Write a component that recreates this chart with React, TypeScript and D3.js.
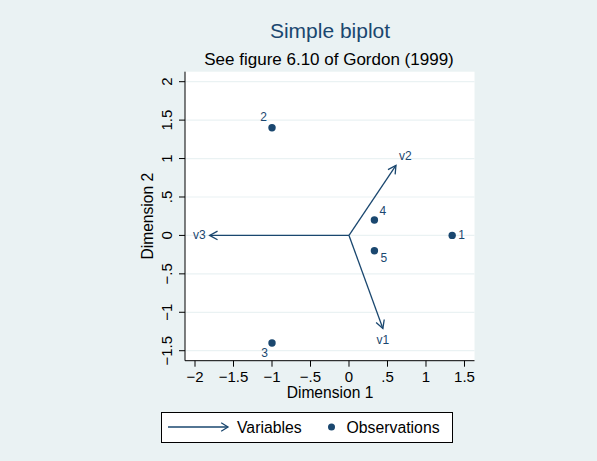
import React from 'react';
import * as d3 from 'd3';

// observations (Dimension 1, Dimension 2)
const obsLabels = ['1', '2', '3', '4', '5'];
const obsX = [1.34, -1.0, -1.0, 0.33, 0.33];
const obsY = [0.0, 1.4, -1.4, 0.2, -0.2];
const obsClock = [3, 11, 7, 1, 5];

// variables (arrow tips)
const varLabels = ['v1', 'v2', 'v3'];
const varX = [0.44, 0.61, -1.81];
const varY = [-1.21, 0.91, 0.0];
const varClock = [6, 1, 9];

const xTicks = [-2, -1.5, -1, -0.5, 0, 0.5, 1, 1.5];
const yTicks = [-1.5, -1, -0.5, 0, 0.5, 1, 1.5, 2];

const navy = '#1a476f';
const bg = '#eaf2f3';
const font = '"Liberation Sans", Arial, Helvetica, sans-serif';

const fmt = (v: number) => {
  const s = String(Math.abs(v)).replace(/^0\./, '.');
  return (v < 0 ? '\u2212' : '') + s;
};

// offset for a label placed at a clock position around a point
const clockPos = (c: number, gap: number) => {
  switch (c) {
    case 3: return { dx: gap, dy: 4, anchor: 'start' };
    case 9: return { dx: -gap, dy: 4, anchor: 'end' };
    case 1: return { dx: gap - 1, dy: -5, anchor: 'start' };
    case 5: return { dx: gap, dy: 11, anchor: 'start' };
    case 11: return { dx: -gap + 1, dy: -7, anchor: 'end' };
    case 7: return { dx: -gap + 2, dy: 14, anchor: 'end' };
    case 6: return { dx: 0, dy: 16, anchor: 'middle' };
    default: return { dx: 0, dy: -6, anchor: 'middle' };
  }
};

export default function App() {
  const W = 597;
  const H = 461;
  const x = d3.scaleLinear().domain([-2.13, 1.63]).range([185, 474.5]);
  const y = d3.scaleLinear().domain([-1.63, 2.13]).range([360.7, 71.7]);
  const [x0, x1] = x.range();
  const [yb, yt] = y.range();

  const arrowHead = (tx: number, ty: number, ox: number, oy: number, len = 9, ang = 0.5) => {
    const a = Math.atan2(ty - oy, tx - ox);
    const p1 = [tx - len * Math.cos(a - ang), ty - len * Math.sin(a - ang)];
    const p2 = [tx - len * Math.cos(a + ang), ty - len * Math.sin(a + ang)];
    return `M${p1[0]},${p1[1]}L${tx},${ty}L${p2[0]},${p2[1]}`;
  };

  return (
    <svg width={W} height={H} style={{ display: 'block', position: 'absolute', left: 0, top: 0 }} fontFamily={font}>
      <rect x={0} y={0} width={W} height={H} fill={bg} />
      <text x={330} y={38} textAnchor="middle" fontSize={21} fill={navy}>Simple biplot</text>
      <text x={329} y={65} textAnchor="middle" fontSize={17} fill="#000">See figure 6.10 of Gordon (1999)</text>

      <rect x={x0} y={yt} width={x1 - x0} height={yb - yt} fill="#fff" />
      {yTicks.map((t) => (
        <line key={'g' + t} x1={x0} x2={x1} y1={y(t)} y2={y(t)} stroke={bg} strokeWidth={1.2} />
      ))}

      {/* axes */}
      <line x1={x0} x2={x0} y1={yt} y2={yb} stroke="#000" strokeWidth={1} />
      <line x1={x0} x2={x1} y1={yb} y2={yb} stroke="#000" strokeWidth={1} />
      {xTicks.map((t) => (
        <g key={'x' + t}>
          <line x1={x(t)} x2={x(t)} y1={yb} y2={yb + 6} stroke="#000" />
          <text x={x(t)} y={yb + 21} textAnchor="middle" fontSize={15}>{fmt(t)}</text>
        </g>
      ))}
      {yTicks.map((t) => (
        <g key={'y' + t}>
          <line x1={x0 - 6} x2={x0} y1={y(t)} y2={y(t)} stroke="#000" />
          <text transform={`translate(${x0 - 13},${y(t)}) rotate(-90)`} textAnchor="middle" fontSize={15}>{fmt(t)}</text>
        </g>
      ))}
      <text x={330} y={398} textAnchor="middle" fontSize={15.6}>Dimension 1</text>
      <text transform={`translate(153.3,216.2) rotate(-90)`} textAnchor="middle" fontSize={15.6}>Dimension 2</text>

      {/* variable arrows */}
      {varLabels.map((l, i) => {
        const tx = x(varX[i]);
        const ty = y(varY[i]);
        const p = clockPos(varClock[i], 4);
        return (
          <g key={l}>
            <line x1={x(0)} y1={y(0)} x2={tx} y2={ty} stroke={navy} strokeWidth={1.3} />
            <path d={arrowHead(tx, ty, x(0), y(0))} fill="none" stroke={navy} strokeWidth={1.3} />
            <text x={tx + p.dx} y={ty + p.dy} textAnchor={p.anchor} fontSize={12} fill={navy}>{l}</text>
          </g>
        );
      })}

      {/* observations */}
      {obsLabels.map((l, i) => {
        const cx = x(obsX[i]);
        const cy = y(obsY[i]);
        const p = clockPos(obsClock[i], 6);
        return (
          <g key={'o' + l}>
            <circle cx={cx} cy={cy} r={3.7} fill={navy} />
            <text x={cx + p.dx} y={cy + p.dy} textAnchor={p.anchor} fontSize={12} fill={navy}>{l}</text>
          </g>
        );
      })}

      {/* legend */}
      <rect x={161.5} y={412.5} width={291} height={30} fill="#fff" stroke="#000" strokeWidth={1} />
      <line x1={168} x2={228} y1={427} y2={427} stroke={navy} strokeWidth={1.3} />
      <path d={arrowHead(228, 427, 168, 427, 8, 0.55)} fill="none" stroke={navy} strokeWidth={1.3} />
      <text x={237} y={433} fontSize={15.8}>Variables</text>
      <circle cx={331.5} cy={427} r={3.5} fill={navy} />
      <text x={346.5} y={433} fontSize={15.8}>Observations</text>
    </svg>
  );
}
